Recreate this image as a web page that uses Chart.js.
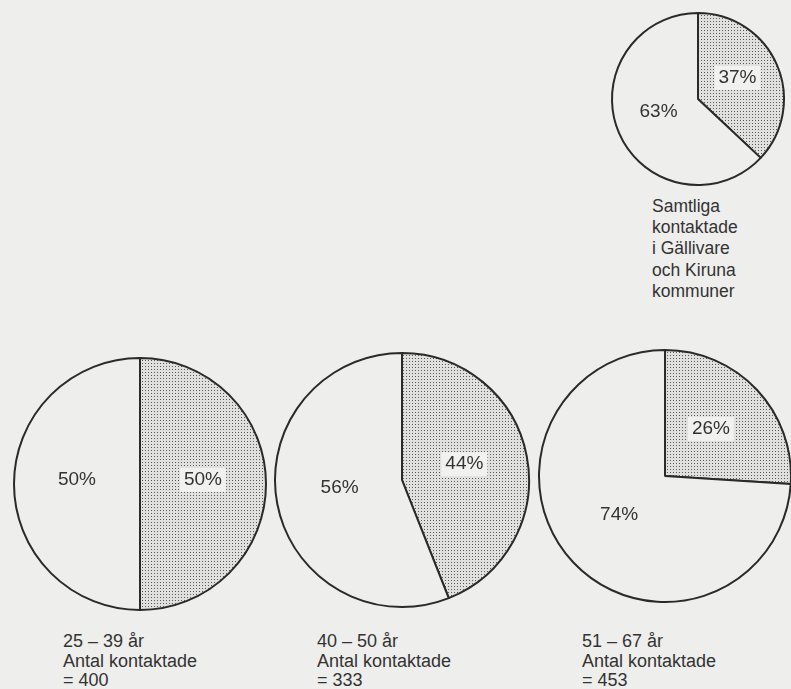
<!DOCTYPE html>
<html>
<head>
<meta charset="utf-8">
<script src="https://cdn.jsdelivr.net/npm/chart.js@4.4.1/dist/chart.umd.min.js"></script>
<style>
  html, body { margin: 0; padding: 0; }
  body { width: 791px; height: 689px; background: #eeeeec; position: relative; overflow: hidden;
         font-family: "Liberation Sans", Arial, sans-serif; color: #333333; }
  .pie { position: absolute; }
  .cap { position: absolute; font-size: 18px; line-height: 19.5px; white-space: nowrap; }
  .capTop { position: absolute; font-size: 17.5px; line-height: 21.2px; white-space: nowrap; }
</style>
</head>
<body>
<canvas id="c0" class="pie" width="176" height="176" style="left:610px;top:11px"></canvas>
<canvas id="c1" class="pie" width="256" height="256" style="left:12px;top:356px"></canvas>
<canvas id="c2" class="pie" width="258" height="258" style="left:273px;top:351px"></canvas>
<canvas id="c3" class="pie" width="256" height="256" style="left:537px;top:348px"></canvas>

<div id="t0" class="capTop" style="left:652px;top:196px"></div>
<div id="t1" class="cap" style="left:63px;top:632px"></div>
<div id="t2" class="cap" style="left:317px;top:632px"></div>
<div id="t3" class="cap" style="left:582px;top:632px"></div>

<script>
// ---- data ----
const groupNames = ['Samtliga kontaktade i Gällivare och Kiruna kommuner', '25 – 39 år', '40 – 50 år', '51 – 67 år'];
const topCaptionLines = ['Samtliga', 'kontaktade', 'i Gällivare', 'och Kiruna', 'kommuner'];
const shadedPct = [37, 50, 44, 26];
const otherPct  = [63, 50, 56, 74];
const contactCounts = [null, 400, 333, 453];
const countLabel = 'Antal kontaktade';

// ---- captions (real text) ----
document.getElementById('t0').innerHTML = topCaptionLines.join('<br>');
for (let i = 1; i < 4; i++) {
  document.getElementById('t' + i).innerHTML =
    groupNames[i] + '<br>' + countLabel + '<br>= ' + contactCounts[i];
}

// ---- dotted fill pattern ----
function makePattern() {
  const t = document.createElement('canvas');
  t.width = 3; t.height = 3;
  const g = t.getContext('2d');
  g.fillStyle = '#e0e0de';
  g.fillRect(0, 0, 3, 3);
  g.fillStyle = '#5a5a5a';
  g.fillRect(1, 1, 1, 1);
  return g.createPattern(t, 'repeat');
}

const labelPlugin = {
  id: 'pctLabels',
  afterDatasetsDraw(chart) {
    const ctx = chart.ctx;
    const meta = chart.getDatasetMeta(0);
    const ds = chart.data.datasets[0];
    ctx.save();
    ctx.font = '19px "Liberation Sans", Arial, sans-serif';
    ctx.textAlign = 'center';
    ctx.textBaseline = 'middle';
    meta.data.forEach((arc, i) => {
      const p = arc.tooltipPosition();
      const y = p.y - 4;
      const txt = ds.data[i] + '%';
      if (i === 0) {
        const w = ctx.measureText(txt).width + 8;
        ctx.fillStyle = '#f1f1ef';
        ctx.fillRect(p.x - w / 2, y - 12, w, 24);
      }
      ctx.fillStyle = '#333333';
      ctx.fillText(txt, p.x, y);
    });
    ctx.restore();
  }
};

const pattern = makePattern();
for (let i = 0; i < 4; i++) {
  new Chart(document.getElementById('c' + i), {
    type: 'pie',
    data: {
      labels: ['shaded', 'other'],
      datasets: [{
        data: [shadedPct[i], otherPct[i]],
        backgroundColor: [pattern, '#eeeeec'],
        borderColor: '#2a2a2a',
        borderWidth: 2
      }]
    },
    options: {
      responsive: false,
      animation: false,
      devicePixelRatio: 1,
      layout: { padding: 1 },
      plugins: { legend: { display: false }, tooltip: { enabled: false } }
    },
    plugins: [labelPlugin]
  });
}
</script>
</body>
</html>
